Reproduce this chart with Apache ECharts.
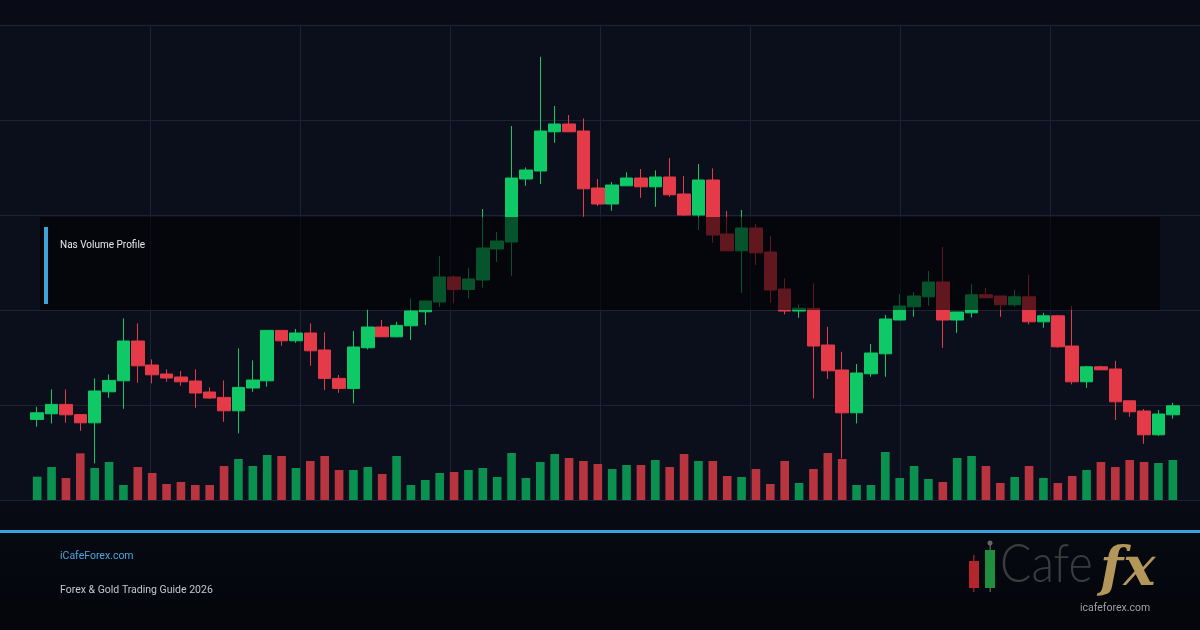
<!DOCTYPE html>
<html>
<head>
<meta charset="utf-8">
<script src="https://cdn.jsdelivr.net/npm/echarts@6/dist/echarts.min.js"></script>
<style>
html, body { margin: 0; padding: 0; background: #0b0f1c; }
#chart { width: 1200px; height: 630px; }
</style>
</head>
<body>
<div id="chart"></div>
<script>
// [open, close, low, high]
const candles = [
  [17903, 17936, 17866, 17966], [17931, 17978, 17883, 18053], [17978, 17926, 17886, 18053], [17927, 17886, 17846, 17928],
  [17886, 18045, 17683, 18108], [18041, 18098, 18011, 18128], [18096, 18295, 17956, 18408], [18295, 18171, 18086, 18383],
  [18175, 18126, 18083, 18203], [18130, 18110, 18091, 18153], [18115, 18091, 18071, 18145], [18095, 18035, 17961, 18153],
  [18040, 18010, 18005, 18063], [18013, 17946, 17891, 18098], [17946, 18063, 17833, 18258], [18060, 18100, 18041, 18198],
  [18096, 18348, 18066, 18350], [18348, 18296, 18271, 18350], [18296, 18335, 18286, 18355], [18335, 18246, 18171, 18383],
  [18250, 18108, 18050, 18338], [18108, 18058, 18036, 18125], [18058, 18265, 17983, 18345], [18261, 18365, 18253, 18453],
  [18365, 18316, 18316, 18400], [18316, 18373, 18313, 18391], [18371, 18445, 18300, 18508], [18441, 18495, 18375, 18497],
  [18490, 18615, 18466, 18721], [18615, 18553, 18483, 18623], [18553, 18605, 18508, 18661], [18600, 18760, 18561, 18955],
  [18755, 18795, 18691, 18840], [18790, 19110, 18621, 19370], [19105, 19150, 19071, 19163], [19145, 19345, 19080, 19716],
  [19341, 19380, 19286, 19470], [19380, 19341, 19341, 19425], [19345, 19056, 18916, 19408], [19060, 18980, 18970, 19105],
  [18980, 19075, 18946, 19090], [19071, 19110, 19071, 19138], [19110, 19066, 19011, 19155], [19066, 19115, 18966, 19148],
  [19115, 19026, 19016, 19210], [19030, 18925, 18921, 19120], [18925, 19100, 18850, 19180], [19100, 18825, 18786, 19158],
  [18830, 18746, 18746, 18945], [18746, 18860, 18536, 18950], [18860, 18736, 18675, 18880], [18740, 18550, 18486, 18820],
  [18555, 18445, 18428, 18608], [18445, 18458, 18411, 18478], [18458, 18270, 18008, 18583], [18275, 18146, 18105, 18366],
  [18150, 17936, 17708, 18241], [17936, 18135, 17883, 18180], [18131, 18235, 18116, 18280], [18231, 18405, 18116, 18425],
  [18400, 18470, 18400, 18530], [18466, 18520, 18416, 18540], [18516, 18590, 18471, 18645], [18590, 18400, 18261, 18765],
  [18400, 18440, 18336, 18440], [18436, 18526, 18413, 18580], [18526, 18511, 18511, 18560], [18520, 18476, 18416, 18520],
  [18476, 18516, 18466, 18550], [18516, 18391, 18378, 18626], [18391, 18421, 18361, 18436], [18421, 18266, 18261, 18426],
  [18270, 18091, 18078, 18470], [18091, 18166, 18061, 18171], [18166, 18151, 18151, 18171], [18155, 17991, 17900, 18196],
  [17996, 17941, 17916, 17996], [17945, 17826, 17781, 17955], [17826, 17930, 17821, 17950], [17926, 17971, 17906, 17986]
];

const volumes = [
  2330, 3300, 2200, 4670, 3200, 3800, 1500, 3300, 2700, 1600,
  1800, 1500, 1500, 3400, 4100, 3400, 4500, 4400, 3200, 3900,
  4400, 3000, 3000, 3300, 2600, 4400, 1500, 2000, 2700, 2800,
  3000, 3200, 2300, 4700, 2200, 3800, 4600, 4200, 3900, 3600,
  3100, 3500, 3500, 4000, 3300, 4600, 3900, 3900, 2400, 2300,
  3100, 1600, 3900, 1700, 3100, 4700, 4100, 1500, 1500, 4800,
  2200, 3400, 2100, 1800, 4200, 4400, 3400, 1700, 2300, 3400,
  2200, 1700, 2400, 3000, 3800, 3300, 4000, 3800, 3700, 4000
];

const categories = candles.map((c, i) => 'D' + (i + 1));

const upColor = '#0fc966';
const downColor = '#e53a48';
const upVol = '#0a9150';
const downVol = '#b8343f';
const gridColor = '#1d2335';

let dom = document.getElementById('chart');
let myChart = echarts.init(dom, null, {renderer: 'canvas'});

const volData = volumes.map((v, i) => ({
    value: v,
    itemStyle: {color: candles[i][1] >= candles[i][0] ? upVol : downVol}
}));

const option = {
    backgroundColor: '#0b0f1c',
    animation: false,
    textStyle: {fontFamily: 'Roboto'},
    grid: [
        {left: 30, right: 20, top: 25, bottom: 130},   // candles
        {left: 30, right: 20, top: 380, bottom: 130},  // volume
        {left: 0, right: 0, top: 25, bottom: 130}      // background lines
    ],
    xAxis: [
        {type: 'category', gridIndex: 0, data: categories, show: false, boundaryGap: true},
        {type: 'category', gridIndex: 1, data: categories, show: false, boundaryGap: true},
        {type: 'value', gridIndex: 2, min: 0, max: 1200, interval: 150,
            axisLine: {show: false}, axisTick: {show: false}, axisLabel: {show: false},
            splitLine: {show: true, showMinLine: false, showMaxLine: false, lineStyle: {color: gridColor, width: 1}}}
    ],
    yAxis: [
        {type: 'value', gridIndex: 0, min: 17500, max: 19875, show: false, splitLine: {show: false}},
        {type: 'value', gridIndex: 1, min: 0, max: 12000, show: false, splitLine: {show: false}},
        {type: 'value', gridIndex: 2, min: 0, max: 475, interval: 95,
            axisLine: {show: false}, axisTick: {show: false}, axisLabel: {show: false},
            splitLine: {show: true, lineStyle: {color: gridColor, width: 1}}}
    ],
    series: [
        {
            type: 'line', xAxisIndex: 2, yAxisIndex: 2, data: [], silent: true
        },
        {
            name: 'Nas', type: 'candlestick', xAxisIndex: 0, yAxisIndex: 0,
            barWidth: '90%',
            data: candles,
            itemStyle: {
                color: upColor, color0: downColor,
                borderColor: upColor, borderColor0: downColor,
                borderWidth: 1
            }
        },
        {
            name: 'Volume', type: 'bar', xAxisIndex: 1, yAxisIndex: 1,
            barWidth: '60%',
            data: volData
        }
    ],
    graphic: [
        // top strip
        {type: 'rect', z: 0, shape: {x: 0, y: 0, width: 1200, height: 24}, style: {fill: '#090c17'}},
        // footer
        {type: 'rect', z: 0, shape: {x: 0, y: 501, width: 1200, height: 129},
            style: {fill: new echarts.graphic.LinearGradient(0, 0, 0, 1, [
                {offset: 0, color: '#080b14'}, {offset: 1, color: '#03050a'}])}},
        {type: 'rect', z: 1, shape: {x: 0, y: 530, width: 1200, height: 3}, style: {fill: '#3b9fd8'}},
        // volume profile band
        {type: 'rect', z: 50, shape: {x: 40, y: 217, width: 1120, height: 93}, style: {fill: 'rgba(0,0,0,0.58)'}},
        {type: 'rect', z: 51, shape: {x: 44, y: 227, width: 4, height: 77}, style: {fill: '#3fa2d9'}},
        {type: 'text', z: 51, x: 60, y: 245, style: {text: 'Nas Volume Profile', fill: '#e6e8ec',
            font: '10px Roboto', textVerticalAlign: 'middle'}},
        // footer texts
        {type: 'text', z: 2, x: 60, y: 556, style: {text: 'iCafeForex.com', fill: '#4aa6df',
            font: '10.5px Roboto', textVerticalAlign: 'middle'}},
        {type: 'text', z: 2, x: 60, y: 590, style: {text: 'Forex & Gold Trading Guide 2026', fill: '#c4c8cf',
            font: '10.5px Roboto', textVerticalAlign: 'middle'}},
        // logo
        {type: 'rect', z: 2, shape: {x: 973, y: 555, width: 1.5, height: 37}, style: {fill: '#8a2024'}},
        {type: 'rect', z: 3, shape: {x: 969, y: 561, width: 10, height: 27}, style: {fill: '#b3262c'}},
        {type: 'rect', z: 2, shape: {x: 989.5, y: 545, width: 1.5, height: 47}, style: {fill: '#555'}},
        {type: 'circle', z: 3, shape: {cx: 990, cy: 543, r: 2.5}, style: {fill: '#666'}},
        {type: 'rect', z: 3, shape: {x: 985, y: 550, width: 10, height: 38}, style: {fill: '#1f8f3f'}},
        {type: 'text', z: 2, x: 1000, y: 592, scaleX: 0.86, style: {text: 'Cafe', fill: '#3c3c3f',
            font: '300 54px Lato', textVerticalAlign: 'bottom'}},
        {type: 'text', z: 3, x: 1100, y: 598, style: {text: 'fx', fill: '#b3965a',
            font: 'italic bold 54px "DejaVu Serif"', textVerticalAlign: 'bottom'}},
        {type: 'text', z: 4, x: 1080, y: 608, style: {text: 'icafeforex.com', fill: '#a0a0a4',
            font: '10.5px Roboto', textVerticalAlign: 'middle'}}
    ]
};
myChart.setOption(option, true);
</script>
</body>
</html>
